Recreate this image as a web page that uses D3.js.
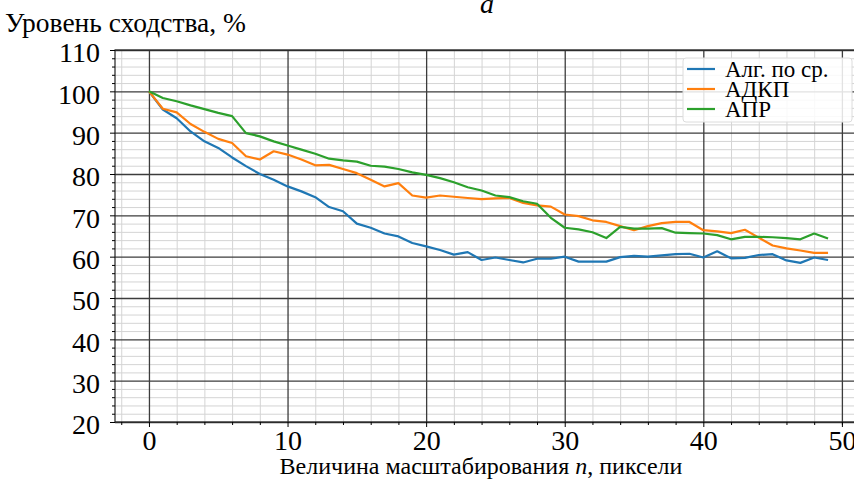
<!DOCTYPE html>
<html>
<head>
<meta charset="utf-8">
<script src="https://cdn.jsdelivr.net/npm/d3@7/dist/d3.min.js"></script>
</head>
<body style="margin:0">
<svg id="chart" width="854" height="479" style="display:block"></svg>
<script>
// Уровень сходства (%) при n = 0..49
const avgValues = [100, 95.6, 93.5, 90.3, 87.9, 86.3, 84, 81.9, 80, 78.6,
  77, 75.8, 74.4, 72, 71, 68, 67, 65.6, 64.9, 63.3,
  62.5, 61.6, 60.5, 61.1, 59.2, 59.8, 59.2, 58.6, 59.5, 59.5,
  60, 58.8, 58.8, 58.8, 59.9, 60.2, 60, 60.3, 60.6, 60.7,
  59.8, 61.3, 59.6, 59.7, 60.4, 60.6, 59.1, 58.5, 59.8, 59.2];

const adkpValues = [100, 95.8, 94.9, 92.1, 90.2, 88.5, 87.5, 84.3, 83.5, 85.5,
  84.7, 83.5, 82.1, 82.2, 81.2, 80.2, 78.6, 77, 77.8, 74.8,
  74.3, 74.8, 74.5, 74.2, 73.9, 74.1, 74.2, 73, 72.4, 72.1,
  70.2, 69.8, 68.8, 68.4, 67.4, 66.4, 67.4, 68.1, 68.4, 68.4,
  66.4, 66.1, 65.7, 66.5, 64.6, 62.7, 62, 61.5, 60.9, 60.9];

const aprValues = [100, 98.4, 97.6, 96.6, 95.7, 94.8, 94, 89.9, 89.1, 87.9,
  86.9, 85.9, 84.9, 83.7, 83.3, 83, 82, 81.8, 81.2, 80.4,
  79.8, 79, 78, 76.8, 76, 74.8, 74.4, 73.4, 72.8, 69.4,
  67, 66.6, 65.9, 64.5, 67.2, 66.8, 66.8, 66.9, 65.8, 65.7,
  65.6, 65.2, 64.2, 64.8, 64.8, 64.7, 64.5, 64.2, 65.6, 64.4];

const seriesNames = ["Алг. по ср.", "АДКП", "АПР"];
const seriesColors = ["#1f77b4", "#ff7f0e", "#2ca02c"];

const xTicks = [0, 10, 20, 30, 40, 50];
const yTicks = [20, 30, 40, 50, 60, 70, 80, 90, 100, 110];
const xMinor = [-2, 2, 4, 6, 8, 12, 14, 16, 18, 22, 24, 26, 28, 32, 34, 36, 38, 42, 44, 46, 48, 50];
const yMinor = [22, 24, 26, 28, 32, 34, 36, 38, 42, 44, 46, 48, 52, 54, 56, 58, 62, 64, 66, 68,
  72, 74, 76, 78, 82, 84, 86, 88, 92, 94, 96, 98, 102, 104, 106, 108];

const series = [avgValues, adkpValues, aprValues].map((vals, k) => ({
  name: seriesNames[k],
  color: seriesColors[k],
  points: vals.map((v, i) => ({ n: i, v: v }))
}));

const serif = "'Liberation Serif'";

const svg = d3.select("#chart");

const plotL = 115, plotR = 862, plotT = 50, plotB = 422;

const x = d3.scaleLinear().domain([-2.45, 51.45]).range([plotL, plotR]);
const y = d3.scaleLinear().domain([20, 110]).range([plotB, plotT]);

// minor grid
svg.append("g")
  .attr("transform", `translate(0,${plotB})`)
  .call(d3.axisBottom(x).tickValues(xMinor).tickSize(-(plotB - plotT)).tickFormat(""))
  .call(g => g.select(".domain").remove())
  .call(g => g.selectAll("line").attr("stroke", "#d4d4d4").attr("stroke-width", 1));

svg.append("g")
  .attr("transform", `translate(${plotL},0)`)
  .call(d3.axisLeft(y).tickValues(yMinor).tickSize(-(plotR - plotL)).tickFormat(""))
  .call(g => g.select(".domain").remove())
  .call(g => g.selectAll("line").attr("stroke", "#d4d4d4").attr("stroke-width", 1));

// major grid
svg.append("g")
  .attr("transform", `translate(0,${plotB})`)
  .call(d3.axisBottom(x).tickValues(xTicks).tickSize(-(plotB - plotT)).tickFormat(""))
  .call(g => g.select(".domain").remove())
  .call(g => g.selectAll("line").attr("stroke", "#3c3c3c").attr("stroke-width", 1.3));

svg.append("g")
  .attr("transform", `translate(${plotL},0)`)
  .call(d3.axisLeft(y).tickValues(yTicks).tickSize(-(plotR - plotL)).tickFormat(""))
  .call(g => g.select(".domain").remove())
  .call(g => g.selectAll("line").attr("stroke", "#3c3c3c").attr("stroke-width", 1.3));

// series lines
const line = d3.line().x(d => x(d.n)).y(d => y(d.v));

svg.append("g")
  .selectAll("path")
  .data(series)
  .join("path")
  .attr("fill", "none")
  .attr("stroke", d => d.color)
  .attr("stroke-width", 2.2)
  .attr("stroke-linejoin", "round")
  .attr("d", d => line(d.points));

// frame
svg.append("rect")
  .attr("x", plotL).attr("y", plotT)
  .attr("width", plotR - plotL).attr("height", plotB - plotT)
  .attr("fill", "none").attr("stroke", "#222").attr("stroke-width", 1.2);

// minor ticks
svg.append("g")
  .attr("transform", `translate(0,${plotB})`)
  .call(d3.axisBottom(x).tickValues(xMinor).tickSize(3).tickFormat(""))
  .call(g => g.select(".domain").remove());

svg.append("g")
  .attr("transform", `translate(${plotL},0)`)
  .call(d3.axisLeft(y).tickValues(yMinor).tickSize(3).tickFormat(""))
  .call(g => g.select(".domain").remove());

// major ticks + labels
svg.append("g")
  .attr("transform", `translate(0,${plotB})`)
  .call(d3.axisBottom(x).tickValues(xTicks).tickSize(5).tickPadding(3))
  .call(g => g.select(".domain").remove())
  .call(g => g.attr("font-family", null).attr("font-size", null))
  .call(g => g.selectAll("text")
    .style("font-family", serif)
    .style("font-size", "28px")
    .attr("fill", "#000"));

svg.append("g")
  .attr("transform", `translate(${plotL},0)`)
  .call(d3.axisLeft(y).tickValues(yTicks).tickSize(5).tickPadding(10))
  .call(g => g.select(".domain").remove())
  .call(g => g.attr("font-family", null).attr("font-size", null))
  .call(g => g.selectAll("text")
    .style("font-family", serif)
    .style("font-size", "28px")
    .attr("dy", "0.42em")
    .attr("fill", "#000"));

// axis titles
svg.append("text")
  .attr("x", 5).attr("y", 32)
  .style("font-family", serif)
  .style("font-size", "27.5px")
  .text("Уровень сходства, %");

const xl = svg.append("text")
  .attr("x", 481).attr("y", 474)
  .attr("text-anchor", "middle")
  .style("font-family", serif)
  .style("font-size", "24px");
xl.append("tspan").text("Величина масштабирования ");
xl.append("tspan").style("font-style", "italic").text("n");
xl.append("tspan").text(", пиксели");

svg.append("text")
  .attr("x", 487).attr("y", 13)
  .attr("text-anchor", "middle")
  .style("font-style", "italic")
  .style("font-family", serif)
  .style("font-size", "28px")
  .text("а");

// legend
const lg = svg.append("g").attr("transform", "translate(683,58)");
lg.append("rect")
  .attr("width", 169).attr("height", 64).attr("rx", 3)
  .attr("fill", "#fff").attr("fill-opacity", 0.85)
  .attr("stroke", "#dcdcdc");

const items = lg.selectAll("g.item")
  .data(series)
  .join("g")
  .attr("class", "item")
  .attr("transform", (d, i) => `translate(0,${11 + i * 20})`);

items.append("line")
  .attr("x1", 4).attr("x2", 32)
  .attr("stroke", d => d.color).attr("stroke-width", 2.2);

items.append("text")
  .attr("x", 42).attr("y", 8)
  .style("font-family", serif)
  .style("font-size", "23px")
  .text(d => d.name);
</script>
</body>
</html>
